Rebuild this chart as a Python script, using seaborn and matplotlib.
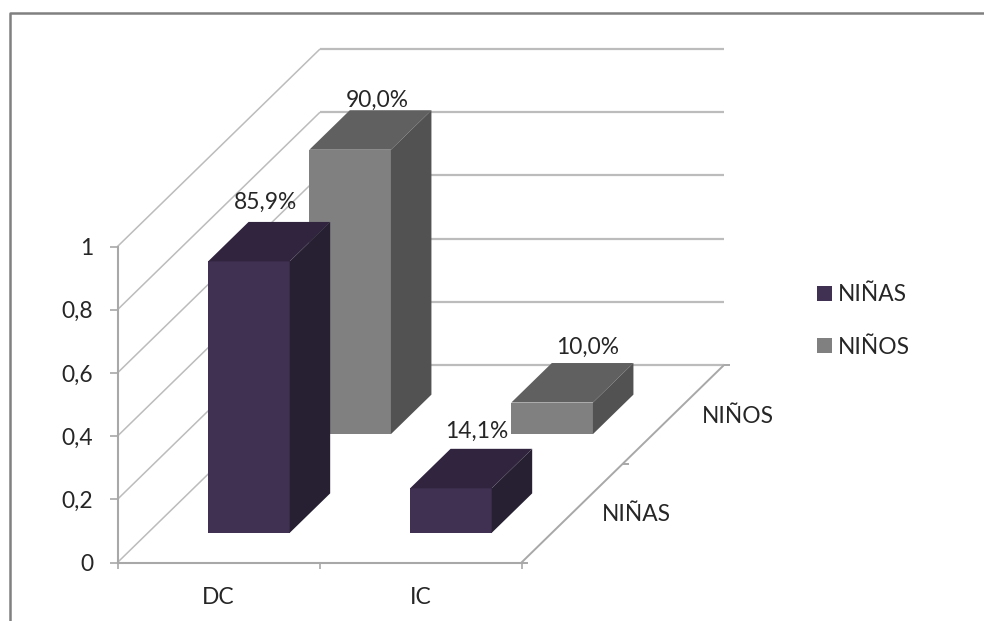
import matplotlib
matplotlib.use("Agg")
import matplotlib.pyplot as plt
import numpy as np
import pandas as pd
import seaborn as sns
from matplotlib.lines import Line2D
from matplotlib.patches import Patch, Polygon
from matplotlib.transforms import Affine2D, IdentityTransform

# Chart data
categories = ["DC", "IC"]
series_names = ["NIÑAS", "NIÑOS"]
ninas_values = [0.859, 0.141]
ninos_values = [0.900, 0.100]
value_ticks = [0, 0.2, 0.4, 0.6, 0.8, 1]
value_tick_labels = ["0", "0,2", "0,4", "0,6", "0,8", "1"]

# Face colours per series: front, top, side
ninas_colors = ("#403152", "#30243e", "#272032")
ninos_colors = ("#808080", "#606060", "#525252")

sns.set_theme(style="white")
plt.rcParams["font.family"] = ["Lato", "DejaVu Sans"]
TEXT = "#262626"
GRID = "#bcbcbc"
AXIS = "#a8a8a8"
FS = 16.4

W, H = 984, 621
fig = plt.figure(figsize=(W / 100, H / 100), dpi=100, facecolor="white")

# The axes is the front plane of the box; depth is added as a screen-space shear.
L, R, B, T = 117.5, 521.5, 562.5, 246.5
ax = fig.add_axes([L / W, 1 - B / H, (R - L) / W, (B - T) / H])
ax.set_xlim(-0.5, 1.5)
ax.set_ylim(0, 1)
ax.patch.set_alpha(0)

DEPTH_PX = np.array([202.5, 197.5])  # full floor depth on screen
SLOT = 0.5                           # depth share of one series
BAR_DEPTH = 0.2                      # bar depth as a share of the floor
BAR_WIDTH = 0.404


def project(x, depth, value):
    """Category position, floor depth (0-1) and value to display pixels."""
    return ax.transData.transform((x, value)) + depth * DEPTH_PX


def line(points, color=GRID, lw=1.2, z=1):
    xs, ys = zip(*points)
    ax.add_line(Line2D(xs, ys, color=color, lw=lw, transform=IdentityTransform(),
                       zorder=z, solid_capstyle="butt", clip_on=False))


# Side wall and back wall gridlines
for v in value_ticks:
    line([project(-0.5, 0, v), project(-0.5, 1, v)], lw=1.1)
    line([project(-0.5, 1, v), project(1.5, 1, v)], lw=1.6)

# Floor edge and depth axis ticks
line([project(1.5, 0, 0), project(1.5, 1, 0)], color=AXIS, lw=1.4)
for d in (0, 0.5, 1):
    p = project(1.5, d, 0)
    line([p, p + np.array([6, 0])], color=AXIS, lw=1.4)

# Bars are drawn back to front so the nearer series covers the farther one
frame = pd.DataFrame({
    "category": categories * 2,
    "series": np.repeat(series_names, len(categories)),
    "value": ninas_values + ninos_values,
})
palette = {series_names[0]: ninas_colors, series_names[1]: ninos_colors}
label_nudges = {("NIÑAS", 0): (-24, 20), ("NIÑOS", 0): (-13, 10),
                ("NIÑAS", 1): (-14.5, 17), ("NIÑOS", 1): (-5, 16)}

for z, idx in zip((3, 5), (1, 0)):
    name = series_names[idx]
    front, top, side = palette[name]
    sub = frame[frame["series"] == name]
    sns.barplot(data=sub, x="category", y="value", order=categories, color=front,
                saturation=1, width=BAR_WIDTH, ax=ax, errorbar=None, zorder=z)
    d0 = idx * SLOT + (SLOT - BAR_DEPTH) / 2
    d1 = d0 + BAR_DEPTH
    shift = Affine2D().translate(*(d0 * DEPTH_PX))
    for i, bar in enumerate(ax.containers[-1].patches):
        bar.set_transform(ax.transData + shift)
        bar.set_clip_on(False)
        bar.set_edgecolor("none")
        x0, x1, v = bar.get_x(), bar.get_x() + bar.get_width(), bar.get_height()
        ax.add_patch(Polygon([project(x0, d0, v), project(x1, d0, v),
                              project(x1, d1, v), project(x0, d1, v)],
                             closed=True, fc=top, ec="none", transform=IdentityTransform(),
                             clip_on=False, zorder=z))
        ax.add_patch(Polygon([project(x1, d0, 0), project(x1, d1, 0),
                              project(x1, d1, v), project(x1, d0, v)],
                             closed=True, fc=side, ec="none", transform=IdentityTransform(),
                             clip_on=False, zorder=z))
        anchor = project((x0 + x1) / 2, d1, v) + np.array(label_nudges[(name, i)])
        ax.text(*anchor, f"{v * 100:.1f}%".replace(".", ","), transform=IdentityTransform(),
                ha="center", va="center", fontsize=FS, color=TEXT, zorder=8, clip_on=False)

# Axes: value ticks on the left, category labels centred, ticks between categories
for s in ("top", "right"):
    ax.spines[s].set_visible(False)
for s in ("left", "bottom"):
    ax.spines[s].set_color(AXIS)
    ax.spines[s].set_linewidth(1.5)
ax.set_yticks(value_ticks, value_tick_labels)
ax.tick_params(axis="y", left=True, length=5.5, width=1.2, color=AXIS, pad=12,
               labelsize=FS, labelcolor=TEXT)
ax.set_xticks([0, 1], categories)
ax.set_xticks([-0.5, 0.5, 1.5], minor=True)
ax.tick_params(axis="x", which="major", length=0, pad=18, labelsize=FS, labelcolor=TEXT)
ax.tick_params(axis="x", which="minor", bottom=True, length=4.5, width=1.2, color=AXIS)
ax.set_xlabel("")
ax.set_ylabel("")

# Depth axis labels along the floor edge
for i, name in enumerate(series_names):
    anchor = project(1.5, (i + 0.5) * SLOT, 0) + np.array([64, -1 - i * 1.5])
    ax.text(*anchor, name, transform=IdentityTransform(), ha="center", va="center",
            fontsize=FS, color=TEXT, clip_on=False)

# Legend
handles = [Patch(fc=ninas_colors[0], ec="none"), Patch(fc=ninos_colors[0], ec="none")]
fig.legend(handles, series_names, loc="center left", bbox_to_anchor=(816.5 / W, 1 - 321 / H),
           frameon=False, fontsize=FS, handlelength=0.66, handleheight=0.66,
           handletextpad=0.26, labelspacing=1.38, borderpad=0, borderaxespad=0,
           labelcolor=TEXT)

# Outer frame: only the top and left edges fall inside the image
line([(10, 0), (10, H - 13), (W, H - 13)], color="#808080", lw=1.8, z=0)

fig.savefig("out.png", dpi=100, facecolor="white")
